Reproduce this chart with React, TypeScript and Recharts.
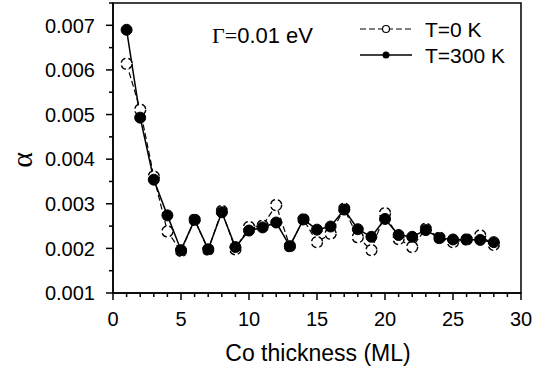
import React from 'react';
import { LineChart, Line, XAxis, YAxis, ReferenceArea } from 'recharts';

// Co thickness in monolayers
const thickness = [
  1, 2, 3, 4, 5, 6, 7, 8, 9, 10, 11, 12, 13, 14,
  15, 16, 17, 18, 19, 20, 21, 22, 23, 24, 25, 26, 27, 28,
];
// damping alpha, T = 0 K (open circles, dashed)
const alphaT0 = [
  0.00614, 0.00511, 0.00361, 0.00238, 0.00194, 0.00264, 0.00197, 0.00284, 0.00198, 0.00248,
  0.00251, 0.00297, 0.00205, 0.00265, 0.00214, 0.00233, 0.00289, 0.00225, 0.00196, 0.00279,
  0.00221, 0.00203, 0.00244, 0.00224, 0.00214, 0.0022, 0.00229, 0.00208,
];
// damping alpha, T = 300 K (filled circles, solid)
const alphaT300 = [
  0.0069, 0.00493, 0.00354, 0.00274, 0.00196, 0.00264, 0.00198, 0.00281, 0.00203, 0.0024,
  0.00247, 0.00258, 0.00205, 0.00265, 0.00242, 0.00249, 0.00287, 0.00243, 0.00226, 0.00266,
  0.0023, 0.00226, 0.00241, 0.00223, 0.0022, 0.0022, 0.00219, 0.00214,
];

const xTicks = [
  0, 1, 2, 3, 4, 5, 6, 7, 8, 9, 10, 11, 12, 13, 14, 15,
  16, 17, 18, 19, 20, 21, 22, 23, 24, 25, 26, 27, 28, 29, 30,
];
const yTicks = [
  0.001, 0.0015, 0.002, 0.0025, 0.003, 0.0035, 0.004, 0.0045,
  0.005, 0.0055, 0.006, 0.0065, 0.007, 0.0075,
];

const data = thickness.map((t, i) => ({ t, t0: alphaT0[i], t300: alphaT300[i] }));

const FONT = '"Liberation Sans", Arial, sans-serif';
const SERIF = '"Liberation Serif", "Times New Roman", serif';

const XTick = (props: any) => {
  const { x, y, payload } = props;
  const v = payload.value;
  const major = v % 5 === 0;
  return (
    <g>
      <line x1={x} x2={x} y1={y} y2={y + (major ? 7 : 4)} stroke="#000" strokeWidth={1.5} />
      {major && (
        <text x={x} y={y + 33} textAnchor="middle" fontFamily={FONT} fontSize={20} fill="#000">
          {v}
        </text>
      )}
    </g>
  );
};

const YTick = (props: any) => {
  const { x, y, payload } = props;
  const v = payload.value;
  const major = Math.abs(v * 1000 - Math.round(v * 1000)) < 1e-6;
  return (
    <g>
      <line x1={x} x2={x - (major ? 7 : 4)} y1={y} y2={y} stroke="#000" strokeWidth={1.5} />
      {major && (
        <text x={x - 18} y={y} dy="0.36em" textAnchor="end" fontFamily={FONT} fontSize={20} fill="#000">
          {v.toFixed(3)}
        </text>
      )}
    </g>
  );
};

export default function App() {
  return (
    <div style={{ position: 'absolute', left: 0, top: 0, width: 533, height: 371, background: '#fff' }}>
      <LineChart width={533} height={371} data={data} margin={{ top: 3, right: 12, bottom: 0, left: 0 }}>
        <XAxis
          dataKey="t"
          type="number"
          domain={[0, 30]}
          ticks={xTicks}
          interval={0}
          height={78}
          tickSize={0}
          tickMargin={0}
          tickLine={false}
          tick={XTick}
          axisLine={{ stroke: '#000', strokeWidth: 1.5 }}
        />
        <YAxis
          type="number"
          domain={[0.001, 0.0075]}
          ticks={yTicks}
          interval={0}
          width={113}
          tickSize={0}
          tickMargin={0}
          tickLine={false}
          tick={YTick}
          allowDataOverflow
          axisLine={{ stroke: '#000', strokeWidth: 1.5 }}
        />
        <ReferenceArea x1={0} x2={30} y1={0.001} y2={0.0075} fill="none" stroke="#000" strokeWidth={1.5} ifOverflow="visible" />
        <Line
          type="linear"
          dataKey="t0"
          stroke="#000"
          strokeWidth={1.2}
          strokeDasharray="6 3"
          dot={{ r: 5.5, fill: '#fff', stroke: '#000', strokeWidth: 1.3 }}
          activeDot={false}
          isAnimationActive={false}
        />
        <Line
          type="linear"
          dataKey="t300"
          stroke="#000"
          strokeWidth={1.5}
          dot={{ r: 5.5, fill: '#000', stroke: '#000', strokeWidth: 1 }}
          activeDot={false}
          isAnimationActive={false}
        />
      </LineChart>
      <svg width={533} height={371} style={{ position: 'absolute', left: 0, top: 0, pointerEvents: 'none' }}>
        <text x={21} y={160} transform="rotate(-90 21 160)" textAnchor="middle" dominantBaseline="central" fontFamily={SERIF} fontSize={30} fill="#000">
          α
        </text>
        <text x={318} y={361} textAnchor="middle" fontFamily={FONT} fontSize={23} fill="#000">
          Co thickness (ML)
        </text>
        <text x={212} y={43} fontFamily={FONT} fontSize={22} fill="#000">
          <tspan fontFamily={SERIF}>Γ=</tspan>0.01 eV
        </text>
        <line x1={360} x2={412} y1={29} y2={29} stroke="#000" strokeWidth={1.2} strokeDasharray="6 3" />
        <circle cx={386} cy={29} r={3.5} fill="#fff" stroke="#000" strokeWidth={1.2} />
        <text x={425} y={29} dy="0.36em" fontFamily={FONT} fontSize={21} fill="#000">T=0 K</text>
        <line x1={360} x2={412} y1={55} y2={55} stroke="#000" strokeWidth={1.5} />
        <circle cx={386} cy={55} r={3.5} fill="#000" />
        <text x={425} y={55} dy="0.36em" fontFamily={FONT} fontSize={21} fill="#000">T=300 K</text>
      </svg>
    </div>
  );
}
